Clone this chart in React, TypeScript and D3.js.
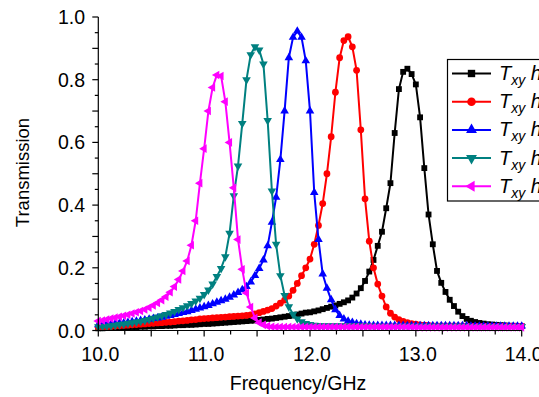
import React from "react";
import * as d3 from "d3";

const FREQ = [
  10.00,10.04,10.08,10.12,10.16,10.20,10.24,10.28,10.32,10.36,10.40,10.44,10.48,10.52,10.56,10.60,10.64,10.68,10.72,10.76,10.80,10.84,10.88,10.92,10.96,
  11.00,11.04,11.08,11.12,11.16,11.20,11.24,11.28,11.32,11.36,11.40,11.44,11.48,11.52,11.56,11.60,11.64,11.68,11.72,11.76,11.80,11.84,11.88,11.92,11.96,
  12.00,12.04,12.08,12.12,12.16,12.20,12.24,12.28,12.32,12.36,12.40,12.44,12.48,12.52,12.56,12.60,12.64,12.68,12.72,12.76,12.80,12.84,12.88,12.92,12.96,
  13.00,13.04,13.08,13.12,13.16,13.20,13.24,13.28,13.32,13.36,13.40,13.44,13.48,13.52,13.56,13.60,13.64,13.68,13.72,13.76,13.80,13.84,13.88,13.92,13.96,
  14.00,
];

const T_BLACK = [
  0.007,0.007,0.008,0.008,0.009,0.009,0.010,0.010,0.011,0.011,0.012,0.012,0.013,0.013,0.014,0.014,0.015,0.015,0.016,0.017,0.017,0.018,0.018,0.019,0.020,
  0.021,0.021,0.022,0.023,0.024,0.025,0.026,0.027,0.028,0.029,0.030,0.031,0.032,0.034,0.035,0.037,0.038,0.040,0.042,0.044,0.046,0.048,0.051,0.054,0.057,
  0.058,0.061,0.064,0.068,0.072,0.076,0.080,0.085,0.090,0.096,0.105,0.118,0.135,0.158,0.188,0.225,0.270,0.315,0.390,0.470,0.630,0.770,0.825,0.835,0.818,
  0.785,0.680,0.518,0.370,0.275,0.190,0.152,0.123,0.098,0.078,0.060,0.046,0.037,0.031,0.027,0.024,0.022,0.020,0.019,0.018,0.017,0.016,0.015,0.015,0.014,
  0.014,
];

const T_RED = [
  0.010,0.011,0.012,0.013,0.014,0.015,0.016,0.017,0.018,0.019,0.020,0.021,0.022,0.023,0.024,0.025,0.026,0.027,0.028,0.030,0.031,0.032,0.034,0.035,0.037,
  0.038,0.039,0.040,0.041,0.042,0.043,0.044,0.045,0.046,0.047,0.048,0.050,0.053,0.057,0.061,0.065,0.070,0.078,0.087,0.097,0.110,0.128,0.150,0.175,0.200,
  0.228,0.275,0.335,0.405,0.500,0.618,0.760,0.870,0.925,0.937,0.905,0.830,0.640,0.420,0.285,0.200,0.148,0.110,0.075,0.055,0.043,0.035,0.029,0.025,0.022,
  0.020,0.018,0.017,0.016,0.015,0.015,0.015,0.015,0.015,0.015,0.015,0.015,0.015,0.014,0.014,0.014,0.014,0.014,0.014,0.014,0.014,0.014,0.014,0.014,0.014,
  0.014,
];

const T_BLUE = [
  0.018,0.019,0.020,0.021,0.022,0.023,0.024,0.026,0.028,0.030,0.032,0.034,0.036,0.038,0.040,0.042,0.045,0.048,0.051,0.054,0.057,0.060,0.064,0.068,0.072,
  0.076,0.080,0.085,0.090,0.095,0.100,0.106,0.113,0.121,0.130,0.140,0.155,0.175,0.198,0.225,0.270,0.345,0.425,0.545,0.700,0.870,0.935,0.955,0.935,0.860,
  0.700,0.440,0.290,0.180,0.135,0.098,0.066,0.048,0.037,0.030,0.026,0.022,0.020,0.018,0.017,0.016,0.016,0.016,0.016,0.016,0.016,0.016,0.016,0.015,0.015,
  0.015,0.015,0.015,0.015,0.015,0.015,0.015,0.015,0.015,0.015,0.015,0.015,0.015,0.014,0.014,0.014,0.014,0.014,0.014,0.014,0.014,0.014,0.014,0.014,0.014,
  0.014,
];

const T_TEAL = [
  0.012,0.013,0.014,0.015,0.017,0.019,0.021,0.023,0.025,0.027,0.029,0.032,0.035,0.039,0.043,0.047,0.051,0.056,0.061,0.067,0.073,0.079,0.086,0.094,0.103,
  0.115,0.129,0.148,0.172,0.198,0.235,0.310,0.430,0.525,0.660,0.800,0.880,0.905,0.895,0.850,0.670,0.445,0.275,0.175,0.112,0.076,0.052,0.037,0.028,0.022,
  0.019,0.017,0.016,0.015,0.015,0.015,0.015,0.015,0.015,0.015,0.015,0.015,0.015,0.015,0.015,0.014,0.014,0.014,0.014,0.014,0.014,0.014,0.014,0.014,0.014,
  0.014,0.014,0.014,0.014,0.014,0.014,0.014,0.014,0.014,0.014,0.014,0.014,0.014,0.013,0.013,0.013,0.013,0.013,0.013,0.013,0.013,0.013,0.013,0.013,0.013,
  0.013,
];

const T_MAGENTA = [
  0.030,0.032,0.035,0.038,0.041,0.044,0.047,0.050,0.054,0.058,0.062,0.067,0.073,0.080,0.088,0.097,0.108,0.122,0.140,0.163,0.190,0.222,0.272,0.350,0.470,
  0.580,0.700,0.775,0.815,0.812,0.730,0.600,0.455,0.290,0.195,0.120,0.075,0.040,0.025,0.018,0.014,0.012,0.011,0.011,0.011,0.011,0.011,0.011,0.011,0.011,
  0.011,0.011,0.011,0.011,0.011,0.011,0.011,0.011,0.011,0.011,0.011,0.011,0.011,0.011,0.011,0.011,0.011,0.011,0.011,0.011,0.011,0.011,0.011,0.011,0.011,
  0.010,0.010,0.010,0.010,0.010,0.010,0.010,0.010,0.010,0.010,0.010,0.010,0.010,0.010,0.010,0.010,0.010,0.010,0.010,0.010,0.010,0.010,0.010,0.010,0.010,
  0.010,
];

const SERIES_NAMES = ["T_xy h=0.5 mm", "T_xy h=0.6 mm", "T_xy h=0.7 mm", "T_xy h=0.8 mm", "T_xy h=0.9 mm"];
const SERIES_SUFFIX = [" h=0.5 mm", " h=0.6 mm", " h=0.7 mm", " h=0.8 mm", " h=0.9 mm"];
const X_LABEL_TICKS = [10, 11, 12, 13, 14];
const Y_LABEL_TICKS = [0, 0.2, 0.4, 0.6, 0.8, 1.0];

const FONT = "'Liberation Sans', Arial, Helvetica, sans-serif";

type Series = { values: number[]; color: string; marker: string };

const SERIES: Series[] = [
  { values: T_BLACK, color: "#000000", marker: "square" },
  { values: T_RED, color: "#ff0000", marker: "circle" },
  { values: T_BLUE, color: "#0000ff", marker: "up" },
  { values: T_TEAL, color: "#008080", marker: "down" },
  { values: T_MAGENTA, color: "#ff00ff", marker: "left" },
];

function markerPath(kind: string, scale = 1): { d: string; rot: number } {
  if (kind === "square") return { d: d3.symbol(d3.symbolSquare, 34 * scale)()!, rot: 0 };
  if (kind === "circle") return { d: d3.symbol(d3.symbolCircle, 36 * scale)()!, rot: 0 };
  const d = d3.symbol(d3.symbolTriangle, 32 * scale)()!;
  if (kind === "up") return { d, rot: 0 };
  if (kind === "down") return { d, rot: 180 };
  return { d, rot: -90 };
}

export default function App() {
  const W = 539, H = 397;
  const x = d3.scaleLinear().domain([10, 14]).range([98.3, 521.7]);
  const y = d3.scaleLinear().domain([0, 1]).range([330.5, 17]);

  const line = d3.line<[number, number]>().x((d) => x(d[0])).y((d) => y(d[1]));

  const xMinor = d3.range(0, 17).map((i) => 10 + i * 0.25);
  const yMinor = d3.range(0, 21).map((i) => i * 0.05);

  const legendX = 447.5, legendY = 59.5, legendRowY = 73.5, legendStep = 28.2;

  return (
    <svg width={W} height={H} style={{ position: "absolute", left: 0, top: 0, background: "#fff" }} fontFamily={FONT}>
      <rect x={0} y={0} width={W} height={H} fill="#fff" />
      {SERIES.map((s, si) => {
        const pts: [number, number][] = FREQ.map((f, i) => [f, s.values[i]]);
        const mk = markerPath(s.marker);
        return (
          <g key={si}>
            <path d={line(pts)!} fill="none" stroke={s.color} strokeWidth={2} />
            {pts.map((p, i) => (
              <path key={i} d={mk.d} fill={s.color} transform={`translate(${x(p[0])},${y(p[1])}) rotate(${mk.rot})`} />
            ))}
          </g>
        );
      })}
      <line x1={98.3} x2={98.3} y1={17} y2={330.5} stroke="#000" strokeWidth={1.2} />
      <line x1={98.3} x2={521.7} y1={330.5} y2={330.5} stroke="#000" strokeWidth={1.2} />
      {xMinor.map((v, i) => (
        <line key={i} x1={x(v)} x2={x(v)} y1={330.5} y2={330.5 + (i % 2 === 0 ? 6 : 4)} stroke="#000" strokeWidth={1.2} />
      ))}
      {yMinor.map((v, i) => (
        <line key={i} x1={98.3 - (i % 2 === 0 ? 6 : 3.5)} x2={98.3} y1={y(v)} y2={y(v)} stroke="#000" strokeWidth={1.2} />
      ))}
      {X_LABEL_TICKS.map((v) => (
        <text key={v} x={x(v) + 2} y={361} textAnchor="middle" fontSize={19.5} fill="#000">{v.toFixed(1)}</text>
      ))}
      {Y_LABEL_TICKS.map((v) => (
        <text key={v} x={85} y={y(v) + 7} textAnchor="end" fontSize={19.5} fill="#000">{v.toFixed(1)}</text>
      ))}
      <text x={298} y={390} textAnchor="middle" fontSize={19.5} fill="#000">Frequency/GHz</text>
      <text transform="translate(29,172.5) rotate(-90)" textAnchor="middle" fontSize={18.5} fill="#000">Transmission</text>
      <rect x={legendX} y={legendY} width={140} height={141.5} fill="#fff" stroke="#000" strokeWidth={1.2} />
      {SERIES.map((s, si) => {
        const ly = legendRowY + si * legendStep;
        const mk = markerPath(s.marker, 1.6);
        return (
          <g key={si}>
            <line x1={452} x2={491} y1={ly} y2={ly} stroke={s.color} strokeWidth={2} />
            <path d={mk.d} fill={s.color} transform={`translate(471.5,${ly}) rotate(${mk.rot})`} />
            <text x={499} y={ly + 6.5} fontSize={20} fontStyle="italic" fill="#000" aria-label={SERIES_NAMES[si]}>
              T<tspan fontSize={14} dy={5}>xy</tspan><tspan dy={-5}>{SERIES_SUFFIX[si]}</tspan>
            </text>
          </g>
        );
      })}
    </svg>
  );
}
